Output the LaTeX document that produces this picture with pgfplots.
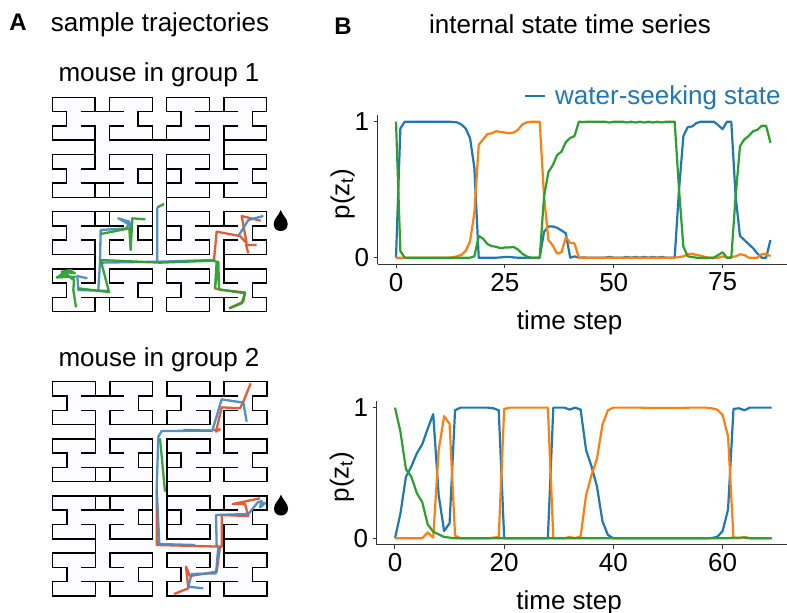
\documentclass[border=0pt]{standalone}
\usepackage{pgfplots}
\usepackage{pgfplotstable}
\usepackage{fontspec}
\setmainfont{Liberation Sans}
\pgfplotsset{compat=1.18}
\definecolor{tblue}{HTML}{1F77B4}
\definecolor{torange}{HTML}{FF7F0E}
\definecolor{tgreen}{HTML}{2CA02C}
\definecolor{tjblue}{HTML}{4A8CBF}
\definecolor{tjred}{HTML}{E0562A}
\definecolor{floorc}{HTML}{FCFCFF}
\newcommand\fa{\fontsize{26}{28}\selectfont}
\newcommand\fb{\fontsize{24}{26}\selectfont}
\pgfplotstableread{
x y
3 1
3 0
0 0
0 1
1 1
1 2
0 2
0 3
3 3
nan nan
2 2
3 2
3 5
2 5
nan nan
2 1
5 1
nan nan
4 1
4 0
7 0
7 1
6 1
6 2
7 2
7 3
4 3
4 2
5 2
nan nan
3 4
0 4
0 5
1 5
1 6
0 6
0 7
3 7
3 6
nan nan
2 6
5 6
nan nan
4 6
4 7
7 7
7 6
6 6
6 5
7 5
7 4
4 4
4 5
5 5
nan nan
7 5
7 8
}\wallstab
\pgfplotstableread{
x y
0 0
3 0
3 1
0 1
nan nan
0 2
3 2
3 3
0 3
nan nan
1 1
6 1
6 2
1 2
nan nan
4 0
7 0
7 1
4 1
nan nan
4 2
7 2
7 3
4 3
nan nan
3 2
4 2
4 5
3 5
nan nan
4 3
8 3
8 4
4 4
nan nan
0 4
3 4
3 5
0 5
nan nan
0 6
3 6
3 7
0 7
nan nan
1 5
6 5
6 6
1 6
nan nan
4 4
7 4
7 5
4 5
nan nan
4 6
7 6
7 7
4 7
nan nan
7 4
8 4
8 8
7 8
}\floortab
\pgfplotstableread{
x b o g
0 0 0 1
1 .95 0 .05
2 1 0 0
3 1 0 0
4 1 0 0
5 1 0 0
6 1 0 0
7 1 0 0
8 1 0 0
9 1 0 0
10 1 0 0
11 1 0 0
12 1 0 0
13 .998 .003 0
14 .995 .01 0
15 .98 .02 0
16 .95 .05 0
17 .88 .12 0
18 .66 .33 .01
19 0 .83 .16
20 0 .87 .14
21 0 .91 .10
22 0 .915 .085
23 0 .93 .08
24 .002 .925 .07
25 .006 .92 .075
26 .006 .915 .075
27 .002 .92 .08
28 0 .94 .06
29 0 .98 .03
30 0 .995 .01
31 0 1 0
32 0 1 0
33 0 1 0
34 .19 .45 .45
35 .23 .13 .63
36 .23 .09 .68
37 .22 .03 .755
38 .20 .04 .78
39 .18 .15 .85
40 0 .11 .88
41 .01 .105 .895
42 0 0 1
43 .002 0 .998
44 0 0 1
45 0 0 1
46 0 0 1
47 0 0 1
48 0 0 1
49 .006 0 .994
50 0 0 1
51 0 0 1
52 0 0 1
53 .006 0 .994
54 0 0 1
55 .006 0 .994
56 0 0 1
57 .006 0 .994
58 0 0 1
59 .006 0 .994
60 0 0 1
61 .006 0 .994
62 0 0 1
63 0 0 1
64 0 0 1
65 .5 .005 .5
66 .895 .01 .08
67 .96 .025 .01
68 .965 .03 .005
69 .99 .02 0
70 1 .015 0
71 1 .005 0
72 1 0 0
73 1 0 0
74 .975 .0 .02
75 .945 .01 .04
76 1 0 .0
77 1 .005 0
78 .45 .01 .45
79 .16 .025 .82
80 .13 .02 .87
81 .10 0 .895
82 .07 0 .93
83 .03 0 .94
84 0 .025 .97
85 0 .03 .97
86 .13 .01 .845
}\toptab
\pgfplotstableread{
x b o g
0 0 0 1
1 .19 0 .815
2 .47 0 .53
3 .55 0 .47
4 .65 0 .345
5 .72 0 .275
6 .84 .045 .105
7 .95 .005 .05
8 .33 .675 .03
9 .055 .935 .01
10 .115 .875 .005
11 .98 .02 0
12 1 0 0
13 1 0 0
14 1 0 0
15 1 0 0
16 1 0 0
17 1 0 0
18 .995 .005 0
19 .98 .01 0
20 0 .99 0
21 0 1 0
22 0 1 0
23 0 1 0
24 0 1 0
25 0 1 0
26 0 1 0
27 0 1 0
28 0 1 0
29 1 0 0
30 1 0 0
31 1 0 0
32 .985 .01 0
33 1 0 0
34 .985 .015 0
35 .675 .33 0
36 .55 .485 0
37 .395 .61 0
38 .13 .87 0
39 .025 .98 0
40 0 1 0
41 0 1 0
42 0 1 0
43 0 1 0
44 0 1 0
45 0 1 0
46 0 .998 0
47 0 .998 0
48 0 .998 0
49 0 .998 0
50 0 .998 0
51 0 .998 0
52 0 .998 0
53 0 .998 0
54 0 1 0
55 0 1 0
56 0 1 0
57 0 1 0
58 .002 .995 0
59 .01 .985 0
60 .055 .945 0
61 .22 .78 0
62 .99 0 .005
63 .995 0 .005
64 .98 .01 .005
65 1 0 0
66 1 0 0
67 1 0 0
68 1 0 0
69 1 0 0
}\bottab
\pgfplotsset{
 wall/.style={black,line width=1.5pt,line join=miter,no marks,forget plot,unbounded coords=jump},
 traj/.style={no marks,line width=2.3pt,line join=round,opacity=.95},
 ga/.style={traj,x filter/.expression={x/3},y filter/.expression={y/3+80}},
 gb/.style={traj,x filter/.expression={x/3},y filter/.expression={y/3+370}},
 series/.style={no marks,line width=2.2pt,line join=round},
 panel/.style={scale only axis,axis x line*=bottom,axis y line*=left,axis line style={-,line width=1.3pt,color=black!80},
   tick align=outside,major tick length=4pt,every tick/.style={black!80,line width=1pt},
   ytick={0,1},ymin=-.05,ymax=1.05,
   tick label style={font=\fa},/pgf/number format/assume math mode=true,
   xlabel={time step},ylabel={p(z\textsubscript{t})},label style={font=\fa},
   xticklabel shift=1pt,yticklabel shift=1pt},
}
\newcommand\mazeat[3]{%
 \addplot[fill=floorc,draw=none,no marks,forget plot,unbounded coords=jump] table[x expr={#1+#3*\thisrow{x}},y expr={#2+#3*\thisrow{y}}]{\floortab};
 \addplot[fill=floorc,draw=none,no marks,forget plot,unbounded coords=jump] table[x expr={#1+#3*(15-\thisrow{x})},y expr={#2+#3*\thisrow{y}}]{\floortab};
 \addplot[fill=floorc,draw=none,no marks,forget plot,unbounded coords=jump] table[x expr={#1+#3*\thisrow{x}},y expr={#2+#3*(15-\thisrow{y})}]{\floortab};
 \addplot[fill=floorc,draw=none,no marks,forget plot,unbounded coords=jump] table[x expr={#1+#3*(15-\thisrow{x})},y expr={#2+#3*(15-\thisrow{y})}]{\floortab};
 \addplot[wall] table[x expr={#1+#3*\thisrow{x}},y expr={#2+#3*\thisrow{y}}]{\wallstab};
 \addplot[wall] table[x expr={#1+#3*(15-\thisrow{x})},y expr={#2+#3*\thisrow{y}}]{\wallstab};
 \addplot[wall] table[x expr={#1+#3*\thisrow{x}},y expr={#2+#3*(15-\thisrow{y})}]{\wallstab};
 \addplot[wall] table[x expr={#1+#3*(15-\thisrow{x})},y expr={#2+#3*(15-\thisrow{y})}]{\wallstab};
 \addplot[wall] coordinates {({#1+#3*3},{#2+#3*7}) ({#1+#3*4},{#2+#3*7})};
 \addplot[wall] coordinates {({#1+#3*3},{#2+#3*8}) ({#1+#3*4},{#2+#3*8})};
 \addplot[wall] coordinates {({#1+#3*7},{#2+#3*3}) ({#1+#3*8},{#2+#3*3})};
}
\newcommand\drop[2]{%
 \fill[black] (axis cs:#1,#2) .. controls (axis cs:#1+2,#2+6) and (axis cs:#1+7,#2+8.5) .. (axis cs:#1+7,#2+14)
  .. controls (axis cs:#1+7,#2+19) and (axis cs:#1+3.5,#2+21) .. (axis cs:#1,#2+21)
  .. controls (axis cs:#1-3.5,#2+21) and (axis cs:#1-7,#2+19) .. (axis cs:#1-7,#2+14)
  .. controls (axis cs:#1-7,#2+8.5) and (axis cs:#1-2,#2+6) .. (axis cs:#1,#2) -- cycle;
}
\begin{document}
\begin{tikzpicture}[x=1pt,y=1pt]
\path[use as bounding box] (0,0) rectangle (787pt,613pt);
\begin{axis}[at={(0pt,0pt)},anchor=south west,scale only axis,width=787pt,height=613pt,
 xmin=0,xmax=787,ymin=0,ymax=613,y dir=reverse,hide axis,clip=false]
\mazeat{52.3}{97.3}{14.29}
\mazeat{52.7}{381.7}{14.28}
% group 1 trajectories
\addplot[ga,tjred] coordinates {(642,540) (650,455) (720,468) (740,490) (725,408) (782,422)};
\addplot[ga,tjred] coordinates {(745,520) (738,495) (770,495)};
\addplot[ga,tjred] coordinates {(645,625) (665,630) (735,637) (730,665) (687,685)};
\addplot[ga,tjblue] coordinates {(262,595) (232,588) (235,630) (298,632) (327,632)};
\addplot[ga,tjblue] coordinates {(295,630) (300,545) (302,450) (380,445) (385,432) (355,415) (388,425) (392,445)};
\addplot[ga,tjblue] coordinates {(300,548) (480,545) (472,545) (472,382)};
\addplot[ga,tjblue] coordinates {(715,468) (745,420) (790,408)};
\addplot[ga,tjblue] coordinates {(480,545) (642,540)};
\addplot[ga,tgreen] coordinates {(170,595) (190,578) (205,570) (225,580) (190,575) (215,595) (225,590) (170,592) (195,582) (215,570) (185,575) (222,600) (220,630) (228,682)};
\addplot[ga,tgreen] coordinates {(235,625) (327,636) (302,540) (480,548) (640,542) (650,545) (645,625) (655,545) (657,628) (735,640) (725,670) (688,685)};
\addplot[ga,tgreen] coordinates {(302,462) (388,445) (392,510) (397,415) (436,418)};
\addplot[ga,tgreen] coordinates {(472,382) (492,372)};
% group 2 trajectories
\addplot[gb,tgreen] coordinates {(635,182) (550,180)};
\addplot[gb,tgreen] coordinates {(480,205) (495,365)};
\addplot[gb,tjred] coordinates {(752,40) (730,95) (720,115) (665,112) (648,185) (660,178) (640,180)};
\addplot[gb,tjred] coordinates {(470,360) (470,525) (665,530) (665,435) (745,438) (735,402) (698,402) (780,385)};
\addplot[gb,tjblue] coordinates {(740,155) (730,98) (665,88) (637,182) (485,183) (475,200) (470,355) (478,522) (585,525)};
\addplot[gb,tjblue] coordinates {(650,530) (648,435) (745,432) (775,395) (795,400) (780,412) (785,390)};
\addplot[gb,tjred] coordinates {(660,530) (650,605) (570,618) (558,590) (565,655) (522,672)};
\addplot[gb,tjblue] coordinates {(655,530) (648,610) (575,612) (565,650) (610,655)};
\drop{280.7}{210}
\drop{281}{494.5}
\node[font=\bfseries\fb,anchor=center] at (axis cs:18,22) {A};
\node[font=\fa,anchor=center] at (axis cs:160,25) {sample trajectories};
\node[font=\fa,anchor=center] at (axis cs:159,75) {mouse in group 1};
\node[font=\fa,anchor=center] at (axis cs:159,360) {mouse in group 2};
\node[font=\bfseries\fb,anchor=center] at (axis cs:343,26) {B};
\node[font=\fa,anchor=center] at (axis cs:570,24) {internal state time series};
\addplot[tblue,line width=1.5pt,no marks,forget plot] coordinates {(525,96) (545,96)};
\node[font=\fa,text=tblue,anchor=west,inner sep=0pt] at (axis cs:555,98) {water-seeking state};
\end{axis}
\begin{axis}[panel,at={(377.5pt,348.5pt)},anchor=south west,width=409.5pt,height=149.6pt,
 xmin=-4.25,xmax=89.8,xtick={0,25,50,75},
 xlabel style={at={(axis description cs:.469,-.39)},anchor=center},
 ylabel style={at={(axis description cs:-.085,.47)},anchor=center}]
\addplot[series,tblue] table[x=x,y=b]{\toptab};
\addplot[series,torange] table[x=x,y=o]{\toptab};
\addplot[series,tgreen] table[x=x,y=g]{\toptab};
\end{axis}
\begin{axis}[panel,at={(376.7pt,68.2pt)},anchor=south west,width=410.3pt,height=143.7pt,
 xmin=-3.35,xmax=71.8,xtick={0,20,40,60},
 xlabel style={at={(axis description cs:.469,-.4)},anchor=center},
 ylabel style={at={(axis description cs:-.085,.47)},anchor=center}]
\addplot[series,tblue] table[x=x,y=b]{\bottab};
\addplot[series,torange] table[x=x,y=o]{\bottab};
\addplot[series,tgreen] table[x=x,y=g]{\bottab};
\end{axis}
\end{tikzpicture}
\end{document}
